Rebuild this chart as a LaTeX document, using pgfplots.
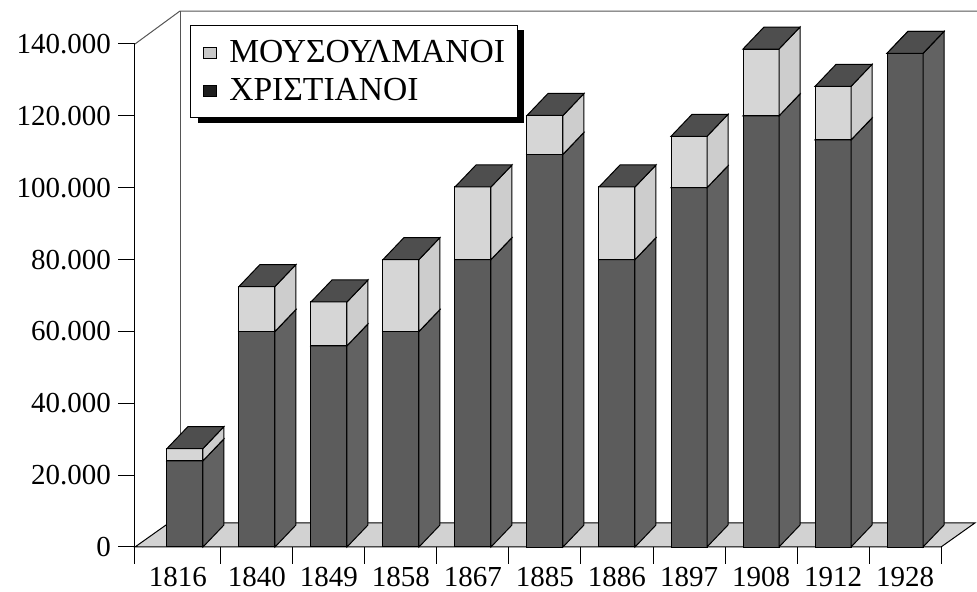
\documentclass[border=0pt]{standalone}
\usepackage{fontspec}
\setmainfont{Liberation Serif}
\usepackage{pgfplots}
\pgfplotsset{compat=1.18}
\usepackage{pgfplotstable}
\usetikzlibrary{shadows}
\definecolor{cfront}{HTML}{5C5C5C}
\definecolor{cside}{HTML}{626262}
\definecolor{ctop}{HTML}{4E4E4E}
\definecolor{mfront}{HTML}{D6D6D6}
\definecolor{mside}{HTML}{CDCDCD}
\definecolor{floorc}{HTML}{D2D2D2}
\definecolor{legdark}{HTML}{1E1E1E}
\definecolor{leglight}{HTML}{C8C8C8}
\definecolor{wallc}{HTML}{555555}

% values in thousands
\pgfplotstableread{
x c m
0 24 3.4
1 60 12.5
2 56 12.2
3 60 20
4 80 20.2
5 109.3 10.8
6 80 20.2
7 100 14.3
8 120 18.6
9 113.3 14.9
10 137.4 0
}\datatable

\newdimen\bh
\newcommand\drawbox[3]{%
  \pgfmathfloattofixed{\pgfplotspointmeta}%
  \bh=\pgfmathresult pt\relax
  \bh=1.796429\bh
  \path[fill=#1,draw=black,line width=0.5pt] (-9pt,0pt) rectangle (9pt,-\bh);
  \path[fill=#2,draw=black,line width=0.5pt] (9pt,0pt) -- (9pt,-\bh) -- ++(10.5pt,11pt) -- (19.5pt,11pt) -- cycle;
  \path[fill=#3,draw=black,line width=0.5pt] (-9pt,0pt) -- (9pt,0pt) -- (19.5pt,11pt) -- (1.5pt,11pt) -- cycle;
}
\newcommand\legsq[1]{%
  \pgfsetfillcolor{#1}\pgfsetstrokecolor{black}\pgfsetlinewidth{0.4pt}%
  \pgfpathrectangle{\pgfpoint{0pt}{-2.8pt}}{\pgfpoint{6.5pt}{5.6pt}}%
  \pgfusepath{fill,stroke}}
\pgfdeclareplotmark{nothing}{}

\begin{document}
\begin{tikzpicture}
\begin{axis}[
  at={(0pt,0pt)}, anchor=south west,
  scale only axis, width=403pt, height=251.5pt,
  xmin=-0.694, xmax=10.5, ymin=0, ymax=140,
  clip=false,
  axis x line*=bottom, axis y line*=left,
  axis line style={line width=0.5pt, -},
  tick align=outside, major tick length=8.5pt,
  tick style={black, line width=0.5pt},
  ytick={0,20,40,60,80,100,120,140},
  yticklabels={0,20.000,40.000,60.000,80.000,100.000,120.000,140.000},
  xtick={-0.694,0.5,1.5,2.5,3.5,4.5,5.5,6.5,7.5,8.5,9.5,10.5},
  x tick label as interval,
  xticklabels={1816,1840,1849,1858,1867,1885,1886,1897,1908,1912,1928},
  ticklabel style={font=\fontsize{14.5}{17}\selectfont},
  xticklabel style={yshift=2pt},
  legend style={at={(axis description cs:0,1)}, anchor=north west,
    xshift=27.5pt, yshift=9.5pt,
    draw=black, line width=0.5pt, fill=white,
    drop shadow={shadow xshift=3.5pt, shadow yshift=-2.5pt, fill=black, opacity=1},
    font=\fontsize{16.8}{19}\selectfont,
    inner xsep=6pt, inner ysep=7.25pt, nodes={inner sep=0pt},
    column sep=6.5pt, row sep=6.5pt},
  legend cell align=left,
]
\addlegendimage{legend image code/.code={\legsq{leglight}}}
\addlegendentry{ΜΟΥΣΟΥΛΜΑΝΟΙ}
\addlegendimage{legend image code/.code={\legsq{legdark}}}
\addlegendentry{ΧΡΙΣΤΙΑΝΟΙ}

\draw[wallc, line width=0.5pt] (axis cs:-0.694,140) -- (axis cs:-0.069,149.18) -- (axis cs:11.3,149.18);
\draw[wallc, line width=0.5pt] (axis cs:-0.069,149.18) -- (axis cs:-0.069,6.68);

\addplot[forget plot, fill=floorc, draw=black, line width=0.5pt]
  coordinates {(-0.694,0) (10.5,0) (10.97,6.68) (-0.224,6.68)} -- cycle;

\addplot[forget plot, only marks, mark=nothing, scatter,
  point meta={\thisrow{c}},
  scatter/@pre marker code/.code={\drawbox{cfront}{cside}{ctop}},
  scatter/@post marker code/.code={}]
  table[x=x,y=c]{\datatable};

\addplot[forget plot, only marks, mark=nothing, scatter,
  point meta={\thisrow{m}},
  scatter/@pre marker code/.code={\drawbox{mfront}{mside}{ctop}},
  scatter/@post marker code/.code={}]
  table[x=x,y expr=\thisrow{c}+\thisrow{m}]{\datatable};
\end{axis}
\pgfresetboundingbox
\path[use as bounding box] (-67.5pt,-22.5pt) rectangle (421pt,273.5pt);
\end{tikzpicture}
\end{document}
